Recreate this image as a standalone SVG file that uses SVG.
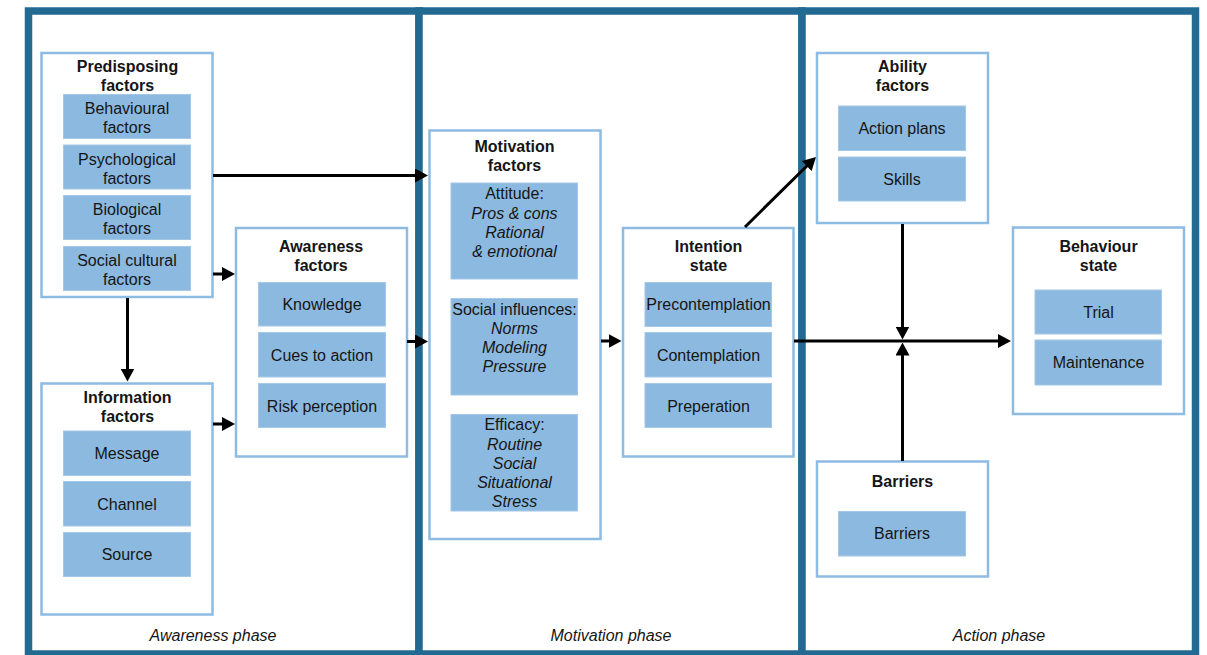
<svg xmlns="http://www.w3.org/2000/svg" width="1207" height="655" viewBox="0 0 1207 655">
<style>
.phase{fill:#fff;stroke:#236a92;stroke-width:7.5}
.box{fill:#fff;stroke:#8dbbe2;stroke-width:2.5}
.item{fill:#8cb9df;stroke:#a3c8e8;stroke-width:1}
text{font-family:"Liberation Sans",Arial,sans-serif;font-size:16px;fill:#151515;text-anchor:middle}
.t{font-weight:bold}
.i{font-style:italic}
.ln{stroke:#000;stroke-width:3;fill:none}
.arr{marker-end:url(#ah)}
</style>
<defs>
<marker id="ah" viewBox="0 0 13 14" refX="7" refY="7" markerWidth="13" markerHeight="14" markerUnits="userSpaceOnUse" orient="auto">
<path d="M0,0 L13,7 L0,14 z" fill="#000"/>
</marker>
</defs>
<rect width="1207" height="655" fill="#fff"/>
<g id="phases">
<rect class="phase" x="28.5" y="11" width="390.5" height="643"/>
<rect class="phase" x="419" y="11" width="383" height="643"/>
<rect class="phase" x="802" y="11" width="393.5" height="643"/>
<text class="i" x="213" y="641">Awareness phase</text>
<text class="i" x="611" y="641">Motivation phase</text>
<text class="i" x="999" y="641">Action phase</text>
</g>
<g id="predisposing">
<rect class="box" x="41.5" y="53" width="171" height="244"/>
<text class="t" x="127.5" y="72">Predisposing</text>
<text class="t" x="127.5" y="91">factors</text>
<rect class="item" x="63.5" y="94.5" width="127" height="44"/>
<text x="127" y="114">Behavioural</text><text x="127" y="133">factors</text>
<rect class="item" x="63.5" y="145" width="127" height="44"/>
<text x="127" y="164.5">Psychological</text><text x="127" y="183.5">factors</text>
<rect class="item" x="63.5" y="195.5" width="127" height="44"/>
<text x="127" y="215">Biological</text><text x="127" y="234">factors</text>
<rect class="item" x="63.5" y="246.5" width="127" height="44"/>
<text x="127" y="266">Social cultural</text><text x="127" y="285">factors</text>
</g>
<g id="information">
<rect class="box" x="41.5" y="383.5" width="171" height="231"/>
<text class="t" x="127.5" y="402.5">Information</text>
<text class="t" x="127.5" y="421.5">factors</text>
<rect class="item" x="63.5" y="431" width="127" height="44.5"/>
<text x="127" y="459">Message</text>
<rect class="item" x="63.5" y="481.5" width="127" height="44.5"/>
<text x="127" y="509.5">Channel</text>
<rect class="item" x="63.5" y="532.5" width="127" height="44"/>
<text x="127" y="560">Source</text>
</g>
<g id="awareness">
<rect class="box" x="236" y="228" width="171" height="228.5"/>
<text class="t" x="321" y="252">Awareness</text>
<text class="t" x="321" y="271">factors</text>
<rect class="item" x="258.5" y="282.5" width="127" height="43.5"/>
<text x="322" y="310">Knowledge</text>
<rect class="item" x="258.5" y="332.5" width="127" height="44.5"/>
<text x="322" y="360.5">Cues to action</text>
<rect class="item" x="258.5" y="383.5" width="127" height="44"/>
<text x="322" y="411.5">Risk perception</text>
</g>
<g id="motivation">
<rect class="box" x="429.5" y="130.5" width="171" height="408.5"/>
<text class="t" x="514.5" y="152">Motivation</text>
<text class="t" x="514.5" y="171">factors</text>
<rect class="item" x="451" y="183" width="126.5" height="96"/>
<text x="514.5" y="199">Attitude:</text>
<text class="i" x="514.5" y="218.5">Pros &amp; cons</text>
<text class="i" x="514.5" y="237.5">Rational</text>
<text class="i" x="514.5" y="256.5">&amp; emotional</text>
<rect class="item" x="451" y="298.5" width="126.5" height="96.5"/>
<text x="514.5" y="314.5">Social influences:</text>
<text class="i" x="514.5" y="333.5">Norms</text>
<text class="i" x="514.5" y="352.5">Modeling</text>
<text class="i" x="514.5" y="371.5">Pressure</text>
<rect class="item" x="451" y="414.5" width="126.5" height="96.5"/>
<text x="514.5" y="430">Efficacy:</text>
<text class="i" x="514.5" y="449.5">Routine</text>
<text class="i" x="514.5" y="468.5">Social</text>
<text class="i" x="514.5" y="487.5">Situational</text>
<text class="i" x="514.5" y="506.5">Stress</text>
</g>
<g id="intention">
<rect class="box" x="623" y="228" width="170.5" height="228.5"/>
<text class="t" x="708.5" y="252">Intention</text>
<text class="t" x="708.5" y="271">state</text>
<rect class="item" x="645" y="282.5" width="126.5" height="44"/>
<text x="708.5" y="310">Precontemplation</text>
<rect class="item" x="645" y="332.5" width="126.5" height="44.5"/>
<text x="708.5" y="360.5">Contemplation</text>
<rect class="item" x="645" y="383.5" width="126.5" height="44"/>
<text x="708.5" y="411.5">Preperation</text>
</g>
<g id="ability">
<rect class="box" x="817" y="53" width="171" height="170"/>
<text class="t" x="902.5" y="72">Ability</text>
<text class="t" x="902.5" y="91">factors</text>
<rect class="item" x="838.5" y="106" width="127" height="44.5"/>
<text x="902" y="134">Action plans</text>
<rect class="item" x="838.5" y="157" width="127" height="44"/>
<text x="902" y="184.5">Skills</text>
</g>
<g id="barriers">
<rect class="box" x="817" y="461.5" width="171" height="115"/>
<text class="t" x="902.5" y="487">Barriers</text>
<rect class="item" x="838.5" y="511.5" width="127" height="44.5"/>
<text x="902" y="539">Barriers</text>
</g>
<g id="behaviour">
<rect class="box" x="1013" y="227.5" width="171" height="186.5"/>
<text class="t" x="1098.5" y="252">Behaviour</text>
<text class="t" x="1098.5" y="271">state</text>
<rect class="item" x="1035" y="290" width="126.5" height="44"/>
<text x="1098.5" y="318">Trial</text>
<rect class="item" x="1035" y="340" width="126.5" height="45"/>
<text x="1098.5" y="368">Maintenance</text>
</g>
<g id="connectors">
<line class="ln arr" x1="213" y1="175.5" x2="422" y2="175.5"/>
<line class="ln arr" x1="213" y1="274" x2="229" y2="274"/>
<line class="ln arr" x1="213" y1="424" x2="229" y2="424"/>
<line class="ln arr" x1="127.5" y1="298" x2="127.5" y2="375.5"/>
<line class="ln arr" x1="407" y1="341.5" x2="422" y2="341.5"/>
<line class="ln arr" x1="601" y1="341" x2="615.5" y2="341"/>
<line class="ln arr" x1="745" y1="227" x2="811.7" y2="161.2"/>
<line class="ln arr" x1="794" y1="341" x2="1005" y2="341"/>
<line class="ln arr" x1="902.5" y1="224" x2="902.5" y2="333.5"/>
<line class="ln arr" x1="902.5" y1="461" x2="902.5" y2="348.5"/>
</g>
</svg>
